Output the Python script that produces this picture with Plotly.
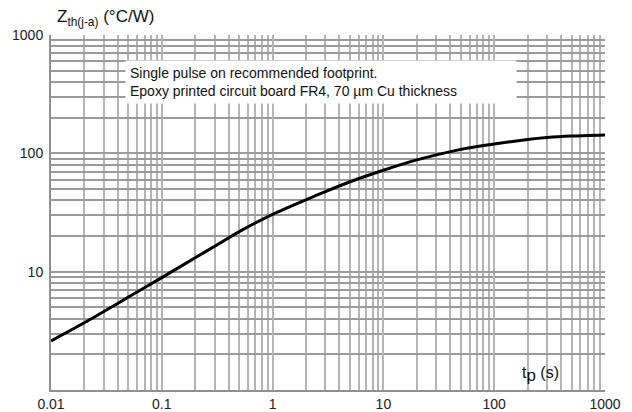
import plotly.graph_objects as go

# data
tp = [0.01, 0.02, 0.03, 0.05, 0.1, 0.2, 0.3, 0.5, 1, 2, 3, 5, 10, 20, 30, 50, 100, 200, 300, 500, 1000]
zth = [2.6, 3.7, 4.6, 6.1, 8.9, 13.1, 16.4, 21.8, 30.5, 40.5, 47.5, 57.5, 72, 88, 97, 108, 120, 131, 136, 140, 143]

x_ticks = [0.01, 0.1, 1, 10, 100, 1000]
x_labels = ["0.01", "0.1", "1", "10", "100", "1000"]
y_ticks = [10, 100, 1000]
y_labels = ["10", "100", "1000"]

x_minor = [m * 10 ** e for e in range(-2, 3) for m in range(2, 10)]
y_minor = [m * 10 ** e for e in range(0, 3) for m in range(2, 10)]

FONT = "Liberation Sans, Arial, sans-serif"

fig = go.Figure()
fig.add_trace(go.Scatter(x=tp, y=zth, mode="lines",
                         line=dict(color="black", width=3, shape="spline", smoothing=0.6),
                         showlegend=False, hoverinfo="skip"))

fig.update_layout(
    width=632, height=412,
    margin=dict(l=51, r=27, t=35, b=22),
    paper_bgcolor="white", plot_bgcolor="white",
    font=dict(family=FONT, size=13, color="#222"),
    xaxis=dict(type="log", range=[-2, 3], tickvals=x_ticks, ticktext=x_labels,
               showgrid=True, gridcolor="#b4b4b4", gridwidth=2,
               minor=dict(tickvals=x_minor, showgrid=True, gridcolor="#b4b4b4", gridwidth=2, ticks=""),
               showline=True, linecolor="#909090", linewidth=2, mirror=False,
               ticks="", ticklabelstandoff=0, zeroline=False, automargin=False,
               tickfont=dict(size=14, family=FONT, color="#222")),
    yaxis=dict(type="log", range=[0, 3], tickvals=y_ticks, ticktext=y_labels,
               showgrid=True, gridcolor="#9a9a9a", gridwidth=2,
               minor=dict(tickvals=y_minor, showgrid=True, gridcolor="#9a9a9a", gridwidth=2, ticks=""),
               showline=True, linecolor="#909090", linewidth=2,
               ticks="", ticklabelstandoff=3, zeroline=False, automargin=False,
               tickfont=dict(size=14, family=FONT, color="#222")),
)

fig.add_annotation(xref="paper", yref="paper", x=(125 - 51) / 554, y=1 - (60 - 35) / 355,
                   xanchor="left", yanchor="top", align="left", showarrow=False,
                   text="Single pulse on recommended footprint.<br>Epoxy printed circuit board FR4, 70 µm Cu thickness",
                   bgcolor="white", borderpad=4, width=382,
                   font=dict(size=14, family=FONT, color="#111"))

fig.add_annotation(xref="paper", yref="paper", x=(55 - 51) / 554, y=1 + (35 - 18) / 355,
                   xanchor="left", yanchor="middle", showarrow=False,
                   text="Z<sub>th(j-a)</sub> (°C/W)",
                   font=dict(size=17, family=FONT, color="#111"))

fig.add_annotation(xref="paper", yref="paper", x=(520 - 51) / 554, y=(390 - 374) / 355,
                   xanchor="left", yanchor="middle", showarrow=False,
                   text="t<sub><span style='font-size:17px'>p</span></sub> (s)",
                   font=dict(size=16, family=FONT, color="#111"))

fig.write_html("out.html")
